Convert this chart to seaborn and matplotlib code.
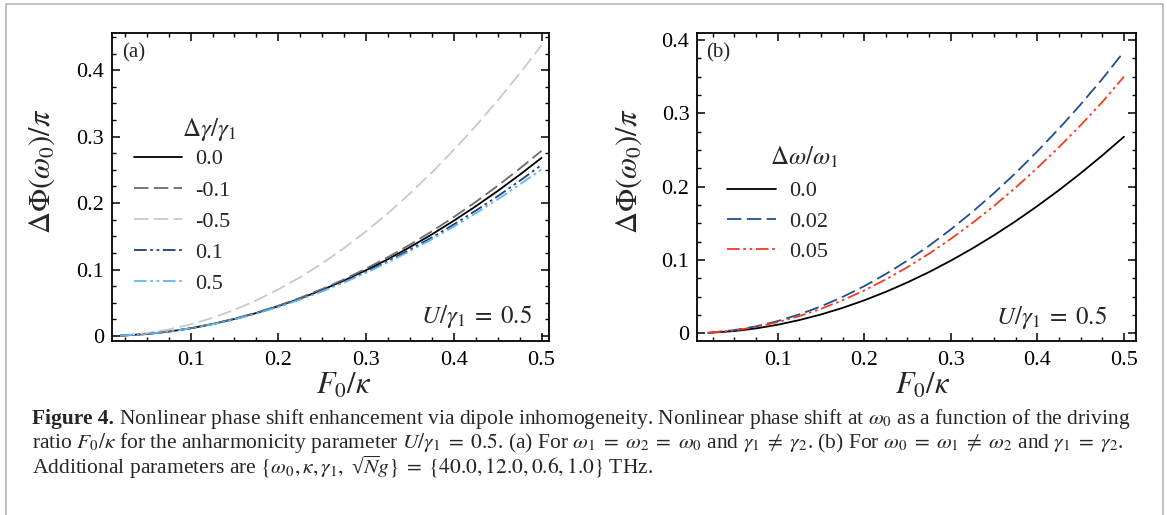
import numpy as np
import pandas as pd
import seaborn as sns
import matplotlib
matplotlib.use('Agg')
import matplotlib.pyplot as plt
from matplotlib.ticker import MultipleLocator, FuncFormatter
from matplotlib.patches import Rectangle

# driving ratio F0/kappa (shared by both panels)
f_ratio = [0.02, 0.05, 0.075, 0.1, 0.125, 0.15, 0.175, 0.2, 0.225, 0.25, 0.275,
           0.3, 0.325, 0.35, 0.375, 0.4, 0.425, 0.45, 0.475, 0.5]

# panel (a): delta gamma / gamma_1
phase_dg_0p0 = [0.0005, 0.0030, 0.0066, 0.0116, 0.0180, 0.0256, 0.0346, 0.0449, 0.0565, 0.0694,
                0.0835, 0.0990, 0.1157, 0.1337, 0.1529, 0.1735, 0.1952, 0.2182, 0.2425, 0.2680]
phase_dg_m0p1 = [0.0005, 0.0030, 0.0067, 0.0117, 0.0182, 0.0260, 0.0351, 0.0456, 0.0575, 0.0708,
                 0.0853, 0.1014, 0.1187, 0.1374, 0.1575, 0.1790, 0.2018, 0.2260, 0.2517, 0.2786]
phase_dg_m0p5 = [0.0007, 0.0044, 0.0098, 0.0175, 0.0273, 0.0394, 0.0536, 0.0700, 0.0886, 0.1094,
                 0.1323, 0.1575, 0.1848, 0.2144, 0.2461, 0.2800, 0.3161, 0.3544, 0.3948, 0.4375]
phase_dg_0p1 = [0.0005, 0.0030, 0.0066, 0.0115, 0.0178, 0.0253, 0.0341, 0.0442, 0.0555, 0.0680,
                0.0817, 0.0966, 0.1127, 0.1300, 0.1483, 0.1679, 0.1886, 0.2103, 0.2333, 0.2573]
phase_dg_0p5 = [0.0005, 0.0030, 0.0065, 0.0115, 0.0177, 0.0251, 0.0338, 0.0438, 0.0549, 0.0672,
                0.0806, 0.0952, 0.1109, 0.1277, 0.1456, 0.1646, 0.1846, 0.2056, 0.2278, 0.2508]

# panel (b): delta omega / omega_1
phase_dw_0p0 = phase_dg_0p0
phase_dw_0p02 = [0.0007, 0.0043, 0.0094, 0.0166, 0.0257, 0.0366, 0.0495, 0.0642, 0.0808, 0.0992,
                 0.1194, 0.1416, 0.1655, 0.1912, 0.2186, 0.2481, 0.2791, 0.3120, 0.3468, 0.3840]
phase_dw_0p05 = [0.0007, 0.0039, 0.0086, 0.0151, 0.0234, 0.0333, 0.0450, 0.0584, 0.0735, 0.0902,
                 0.1086, 0.1287, 0.1504, 0.1738, 0.1988, 0.2256, 0.2538, 0.2837, 0.3153, 0.3500]

labels_a = ['0.0', '-0.1', '-0.5', '0.1', '0.5']
labels_b = ['0.0', '0.02', '0.05']

DASH = (0, (8, 3))
DDOT = (0, (7, 2, 1.5, 2, 1.5, 2))

sns.set_theme(style='ticks')
plt.rcParams['font.family'] = ['Liberation Serif', 'DejaVu Serif']
plt.rcParams['mathtext.fontset'] = 'stix'
plt.rcParams['axes.linewidth'] = 1.3


def style_axes(ax, xlim, ylim):
    ax.set_xlim(*xlim)
    ax.set_ylim(*ylim)
    ax.xaxis.set_major_locator(MultipleLocator(0.1))
    ax.xaxis.set_minor_locator(MultipleLocator(0.025))
    ax.yaxis.set_major_locator(MultipleLocator(0.1))
    ax.yaxis.set_minor_locator(MultipleLocator(0.025))
    fmt = FuncFormatter(lambda v, p: f'{v:g}')
    ax.xaxis.set_major_formatter(fmt)
    ax.yaxis.set_major_formatter(fmt)
    ax.tick_params(which='both', direction='in', top=True, right=True, colors='black')
    ax.tick_params(which='major', length=5.8, width=1.1, labelsize=16)
    ax.tick_params(which='minor', length=3.2, width=1.0)
    ax.tick_params(axis='x', which='major', pad=7.5)
    ax.tick_params(axis='y', which='major', pad=5.5)
    for s in ax.spines.values():
        s.set_color('black')
    ax.set_xlabel(r'$F_0/\kappa$', fontsize=22)
    ax.set_ylabel(r'$\Delta\Phi(\omega_0)/\pi$', fontsize=22)


fig = plt.figure(figsize=(11.67, 5.15), dpi=100)
ax_a = fig.add_axes([0.0957, 0.3379, 0.3751, 0.5981])
ax_b = fig.add_axes([0.5973, 0.3379, 0.3762, 0.5981])

leg_kw = dict(loc='upper left', frameon=False, fontsize=16, handlelength=2.2,
              handletextpad=0.59, borderpad=0, borderaxespad=0)

# ---- panel (a)
series_a = [phase_dg_0p0, phase_dg_m0p1, phase_dg_m0p5, phase_dg_0p1, phase_dg_0p5]
colors_a = ['black', '#6b6b6b', '#c9c9c9', '#1b3f7a', '#62b6f4']
styles_a = ['-', DASH, DASH, DDOT, DDOT]
for y, lab, c, ls in zip(series_a, labels_a, colors_a, styles_a):
    sns.lineplot(x=f_ratio, y=y, ax=ax_a, color=c, linestyle=ls, linewidth=1.3,
                 label=lab, errorbar=None)
style_axes(ax_a, (0.01, 0.509), (-0.0075, 0.456))
ax_a.legend(bbox_to_anchor=(0.050, 0.624), labelspacing=0.48, **leg_kw)
ax_a.text(0.222, 0.685, r'$\Delta\gamma/\gamma_1$', transform=ax_a.transAxes,
          ha='center', va='center', fontsize=18)
ax_a.text(0.0235, 0.935, '(a)', transform=ax_a.transAxes, ha='left', va='center', fontsize=15)
ax_a.text(0.961, 0.079, r'$U/\gamma_1\;=\;0.5$', transform=ax_a.transAxes,
          ha='right', va='center', fontsize=18)
ax_a.xaxis.set_label_coords(0.53, -0.10)
ax_a.yaxis.set_label_coords(-0.125, 0.55)

# ---- panel (b)
series_b = [phase_dw_0p0, phase_dw_0p02, phase_dw_0p05]
colors_b = ['black', '#1f4f8f', '#f23d1f']
styles_b = ['-', DASH, DDOT]
for y, lab, c, ls in zip(series_b, labels_b, colors_b, styles_b):
    sns.lineplot(x=f_ratio, y=y, ax=ax_b, color=c, linestyle=ls, linewidth=1.3,
                 label=lab, errorbar=None)
style_axes(ax_b, (0.007, 0.514), (-0.0105, 0.4095))
ax_b.legend(bbox_to_anchor=(0.068, 0.52), labelspacing=0.44, **leg_kw)
ax_b.text(0.244, 0.597, r'$\Delta\omega/\omega_1$', transform=ax_b.transAxes,
          ha='center', va='center', fontsize=18)
ax_b.text(0.0205, 0.935, '(b)', transform=ax_b.transAxes, ha='left', va='center', fontsize=15)
ax_b.text(0.934, 0.075, r'$U/\gamma_1\;=\;0.5$', transform=ax_b.transAxes,
          ha='right', va='center', fontsize=18)
ax_b.xaxis.set_label_coords(0.515, -0.10)
ax_b.yaxis.set_label_coords(-0.120, 0.55)

# ---- caption
cap_x = 32 / 1167
cap_y = [1 - 424 / 515, 1 - 448 / 515, 1 - 474 / 515]
line1 = (r' Nonlinear phase shift enhancement via dipole inhomogeneity. '
         r'Nonlinear phase shift at $\omega_0$ as a function of the driving')
line2 = (r'ratio $F_0/\kappa$ for the anharmonicity parameter $U/\gamma_1\;=\;0.5$. '
         r'(a) For $\omega_1\;=\;\omega_2\;=\;\omega_0$ and $\gamma_1\;\neq\;\gamma_2$. '
         r'(b) For $\omega_0\;=\;\omega_1\;\neq\;\omega_2$ and $\gamma_1\;=\;\gamma_2$.')
line3 = ('Additional parameters are '
         r'$\{\omega_0, \kappa, \gamma_1,$ √$\overline{N}g\}\;=\;\{40.0, 12.0, 0.6, 1.0\}$ THz.')
cap_fs = 13
bold = fig.text(cap_x, cap_y[0], 'Figure 4.', fontweight='bold', fontsize=cap_fs, va='baseline')
t1 = fig.text(cap_x, cap_y[0], line1, fontsize=cap_fs, va='baseline')
t2 = fig.text(cap_x, cap_y[1], line2, fontsize=cap_fs, va='baseline')
t3 = fig.text(cap_x, cap_y[2], line3, fontsize=cap_fs, va='baseline')

# fit the first caption line to the width it has in the reference
fig.canvas.draw()
r = fig.canvas.get_renderer()
w = bold.get_window_extent(r).width + t1.get_window_extent(r).width
scale = (1125 - 32) / w
for t in (bold, t1, t2, t3):
    t.set_fontsize(cap_fs * scale)
fig.canvas.draw()
x1 = bold.get_window_extent(r).x1 / fig.bbox.width
t1.set_x(x1)

fig.add_artist(Rectangle((6 / 1167, -0.02), 1157 / 1167, 1.02 - 4 / 515,
                         transform=fig.transFigure, fill=False, ec='#b5b5b5', lw=1.2))

fig.savefig('out.png', dpi=100)
